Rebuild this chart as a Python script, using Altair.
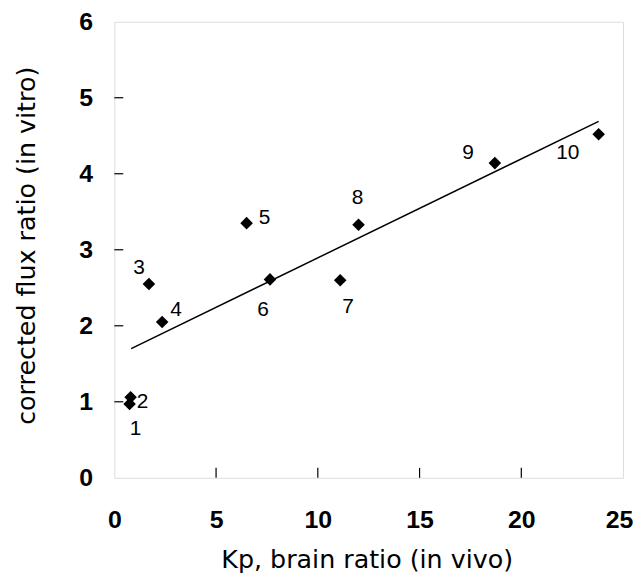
import altair as alt
import pandas as pd

# data
ids = ["1", "2", "3", "4", "5", "6", "7", "8", "9", "10"]
kp = [0.75, 0.8, 1.7, 2.35, 6.5, 7.65, 11.1, 12.0, 18.7, 23.8]
flux = [0.97, 1.06, 2.55, 2.05, 3.35, 2.61, 2.60, 3.33, 4.14, 4.52]

fit_x = [0.83, 23.8]
fit_y = [1.70, 4.69]

x_ticks = [5, 10, 15, 20]
y_ticks = [1, 2, 3, 4, 5]

pts = pd.DataFrame({"id": ids, "kp": kp, "flux": flux})
fit = pd.DataFrame({"kp": fit_x, "flux": fit_y})
xt = pd.DataFrame({"v": x_ticks})
yt = pd.DataFrame({"v": y_ticks})

W, H = 512, 459

xscale = alt.Scale(domain=[0, 25], nice=False, zero=False)
yscale = alt.Scale(domain=[0, 6], nice=False, zero=False)

xaxis = alt.Axis(
    title="Kp, brain ratio (in vivo)",
    values=[0, 5, 10, 15, 20, 25], format="d",
    grid=False, ticks=False, domain=False,
    labelFont="Liberation Sans", labelFontSize=25, labelFontWeight="bold",
    labelColor="black", labelPadding=30, labelFlush=False,
    labelOffset={"condition": {"test": "datum.value == 25", "value": -4}, "value": 0},
    titleFont="DejaVu Sans", titleFontSize=25.5, titleFontWeight="normal",
    titleColor="black", titleX=254, titleY=82, titleBaseline="middle",
    titleAlign="center",
)
yaxis = alt.Axis(
    title="corrected flux ratio (in vitro)",
    values=[0, 1, 2, 3, 4, 5, 6], format="d",
    grid=False, ticks=False, domain=False,
    labelFont="Liberation Sans", labelFontSize=25, labelFontWeight="bold",
    labelColor="black", labelPadding=22, labelFlush=False,
    titleFont="DejaVu Sans", titleFontSize=25.5, titleFontWeight="normal",
    titleColor="black", titleX=-88, titleY=225, titleBaseline="middle",
    titleAlign="center", titleAngle=-90,
)

base_x = alt.X("kp:Q", scale=xscale, axis=xaxis)
base_y = alt.Y("flux:Q", scale=yscale, axis=yaxis)

line = alt.Chart(fit).mark_line(color="black", strokeWidth=1.5).encode(
    x=base_x, y=base_y
)

points = alt.Chart(pts).mark_point(
    shape="diamond", filled=True, color="black", size=160, opacity=1
).encode(x=alt.X("kp:Q", scale=xscale), y=alt.Y("flux:Q", scale=yscale))

offsets = {
    "1": (6, 25), "2": (12, 5), "3": (-10, -16), "4": (14, -12),
    "5": (18, -5), "6": (-7, 31), "7": (8, 27), "8": (-1, -27),
    "9": (-27, -10), "10": (-31, 19),
}

label_layers = []
for pid, (dx, dy) in offsets.items():
    label_layers.append(
        alt.Chart(pts).transform_filter(alt.datum.id == pid).mark_text(
            font="Liberation Sans", fontSize=21, color="black",
            align="center", baseline="middle", dx=dx, dy=dy,
        ).encode(
            x=alt.X("kp:Q", scale=xscale),
            y=alt.Y("flux:Q", scale=yscale),
            text="id:N",
        )
    )

xtick_marks = alt.Chart(xt).mark_rule(color="black", strokeWidth=1.2).encode(
    x=alt.X("v:Q", scale=xscale), y=alt.value(H), y2=alt.value(H - 10)
)
ytick_marks = alt.Chart(yt).mark_rule(color="black", strokeWidth=1.2).encode(
    y=alt.Y("v:Q", scale=yscale), x=alt.value(0), x2=alt.value(9)
)

chart = alt.layer(
    line, xtick_marks, ytick_marks, points, *label_layers
).properties(
    width=W, height=H,
    autosize=alt.AutoSizeParams(type="none"),
    padding={"left": 107, "top": 12, "right": 10, "bottom": 94},
).configure_view(
    stroke="black", strokeWidth=1.5
).configure(background="white")

chart.save("out.html", embed_options={"renderer": "svg", "actions": False})
